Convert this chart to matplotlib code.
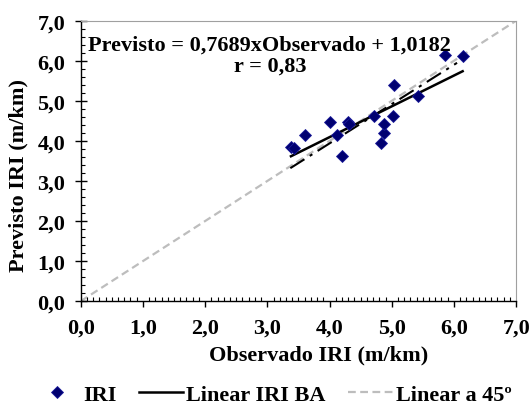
import numpy as np
import matplotlib
matplotlib.use("Agg")
import matplotlib.pyplot as plt
from matplotlib.ticker import MultipleLocator

plt.rcParams['font.family'] = ['Liberation Serif', 'DejaVu Serif']
plt.rcParams['font.weight'] = 'bold'

# values
observado = [3.38, 3.43, 3.60, 4.01, 4.12, 4.20, 4.29, 4.31, 4.72, 4.83,
             4.87, 4.88, 5.02, 5.03, 5.42, 5.86, 6.14]
previsto = [3.85, 3.83, 4.15, 4.46, 4.15, 3.63, 4.46, 4.42, 4.61, 3.96,
            4.21, 4.41, 4.63, 5.39, 5.13, 6.14, 6.13]

# regression (from the equation shown on the chart)
slope, intercept, r = 0.7689, 1.0182, 0.83
# unlabelled dash-dot trend line
slope2, intercept2 = 0.981, 0.014
x2_range = [3.37, 6.05]

fmt = lambda v, d: f"{v:.{d}f}".replace('.', ',')

fig = plt.figure(figsize=(5.31, 4.10), dpi=100)
ax = fig.add_axes([0.152, 0.263, 0.820, 0.684])

ax.plot([0, 7], [0, 7], color='#bdbdbd', lw=1.6, dashes=(3.5, 2),
        label='Linear a 45º', zorder=1)
xs = np.array([min(observado), max(observado)])
ax.plot(xs, slope * xs + intercept, color='black', lw=1.8,
        label='Linear IRI BA', zorder=3)
xd = np.array(x2_range)
ax.plot(xd, slope2 * xd + intercept2, color='black', lw=1.5,
        dashes=(8, 3, 1.5, 3), zorder=2)
ax.plot(observado, previsto, ls='none', marker='D', ms=6,
        color='#000070', mec='#1a1a9a', mew=0.6, label='IRI', zorder=4)

ax.set_xlim(0, 7)
ax.set_ylim(0, 7)
ax.xaxis.set_major_locator(MultipleLocator(1))
ax.xaxis.set_minor_locator(MultipleLocator(0.1))
ax.yaxis.set_major_locator(MultipleLocator(1))
ax.yaxis.set_minor_locator(MultipleLocator(0.2))
ax.xaxis.set_major_formatter(lambda v, p: fmt(v, 1))
ax.yaxis.set_major_formatter(lambda v, p: fmt(v, 1))

ax.tick_params(axis='x', which='major', direction='out', length=4, width=1,
               pad=8, labelsize=16)
ax.tick_params(axis='x', which='minor', direction='in', length=3, width=0.8)
ax.tick_params(axis='y', which='major', direction='inout', length=8, width=1,
               pad=7, labelsize=16)
ax.tick_params(axis='y', which='minor', direction='in', length=3, width=0.8)
for lab in ax.get_xticklabels() + ax.get_yticklabels():
    lab.set_fontweight('bold')

for side in ['top', 'right']:
    ax.spines[side].set_color('#a0a0a0')
    ax.spines[side].set_linewidth(0.8)
for side in ['left', 'bottom']:
    ax.spines[side].set_linewidth(1.0)

ax.set_xlabel('Observado IRI (m/km)', fontsize=16, fontweight='bold', va='center')
ax.xaxis.set_label_coords(0.547, -0.189)
ax.set_ylabel('Previsto IRI (m/km)', fontsize=16, fontweight='bold', va='center')
ax.yaxis.set_label_coords(-0.143, 0.45)

ax.text(3.04, 6.14,
        f"Previsto = {fmt(slope, 4)}xObservado + {fmt(intercept, 4)}\nr = {fmt(r, 2)}",
        ha='center', va='center', fontsize=16, fontweight='bold',
        linespacing=1.05, zorder=5)

handles, labels = ax.get_legend_handles_labels()
order = [labels.index('IRI'), labels.index('Linear IRI BA'), labels.index('Linear a 45º')]
fig.legend([handles[i] for i in order], [labels[i] for i in order],
           loc='center', bbox_to_anchor=(0.515, 0.035), ncol=3, frameon=False,
           handlelength=2.0, handletextpad=0.15, columnspacing=1.0,
           prop={'weight': 'bold', 'size': 16})

fig.savefig('out.png', dpi=100)
